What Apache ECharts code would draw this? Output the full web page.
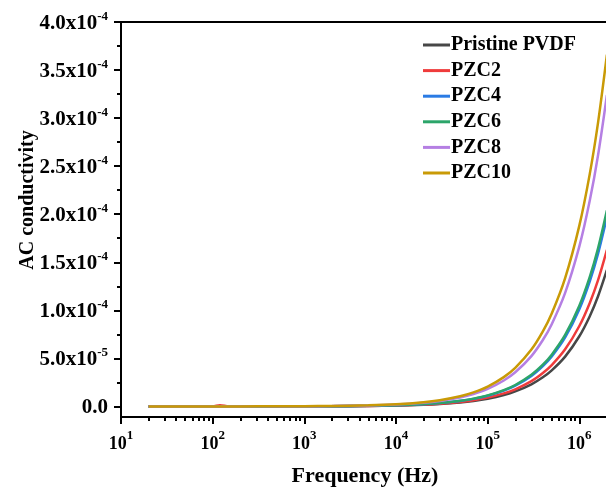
<!DOCTYPE html>
<html>
<head>
<meta charset="utf-8">
<script src="https://cdn.jsdelivr.net/npm/echarts@6/dist/echarts.min.js"></script>
<style>
html,body{margin:0;padding:0;background:#fff;}
#chart{width:606px;height:488px;}
</style>
</head>
<body>
<div id="chart"></div>
<script>
// Frequency sweep (Hz)
const frequencies = [20, 50, 100, 120, 150, 200, 500, 1e3, 2e3, 5e3, 1e4, 2e4, 3e4, 5e4, 7e4, 1e5, 1.5e5, 2e5, 3e5, 4e5, 5e5, 7e5, 1e6, 1.3e6, 1.6e6, 2e6];

// AC conductivity of each film (S/cm)
const pristinePVDF = [2.3e-9, 5.4e-9, 1.0e-8, 1.2e-8, 1.5e-8, 2.1e-8, 4.9e-8, 9.7e-8, 1.9e-7, 4.5e-7, 8.8e-7, 1.71e-6, 2.52e-6, 4.11e-6, 5.66e-6, 8.0e-6, 1.18e-5, 1.56e-5, 2.30e-5, 3.03e-5, 3.75e-5, 5.18e-5, 7.30e-5, 9.39e-5, 1.146e-4, 1.42e-4];
const pzc2 = [2.6e-9, 6.2e-9, 1.2e-8, 1.2e-6, 1.8e-8, 2.4e-8, 5.7e-8, 1.1e-7, 2.1e-7, 5.2e-7, 1.01e-6, 1.96e-6, 2.89e-6, 4.72e-6, 6.50e-6, 9.17e-6, 1.357e-5, 1.78e-5, 2.63e-5, 3.48e-5, 4.30e-5, 5.94e-5, 8.37e-5, 1.077e-4, 1.314e-4, 1.63e-4];
const pzc4 = [3.1e-9, 7.5e-9, 1.4e-8, 1.7e-8, 2.1e-8, 2.9e-8, 6.8e-8, 1.35e-7, 2.6e-7, 6.2e-7, 1.22e-6, 2.37e-6, 3.50e-6, 5.70e-6, 7.85e-6, 1.108e-5, 1.64e-5, 2.16e-5, 3.18e-5, 4.20e-5, 5.20e-5, 7.18e-5, 1.012e-4, 1.302e-4, 1.589e-4, 1.97e-4];
const pzc6 = [3.2e-9, 7.8e-9, 1.5e-8, 1.8e-8, 2.2e-8, 3.0e-8, 7.1e-8, 1.4e-7, 2.7e-7, 6.5e-7, 1.26e-6, 2.45e-6, 3.62e-6, 5.90e-6, 8.13e-6, 1.147e-5, 1.70e-5, 2.23e-5, 3.30e-5, 4.35e-5, 5.39e-5, 7.44e-5, 1.048e-4, 1.348e-4, 1.645e-4, 2.04e-4];
const pzc8 = [5.1e-9, 1.2e-8, 2.4e-8, 2.8e-8, 3.5e-8, 4.7e-8, 1.12e-7, 2.2e-7, 4.2e-7, 1.03e-6, 2.00e-6, 3.89e-6, 5.75e-6, 9.38e-6, 1.29e-5, 1.82e-5, 2.70e-5, 3.55e-5, 5.24e-5, 6.91e-5, 8.56e-5, 1.181e-4, 1.665e-4, 2.142e-4, 2.613e-4, 3.24e-4];
const pzc10 = [5.8e-9, 1.4e-8, 2.7e-8, 3.2e-8, 4.0e-8, 5.3e-8, 1.27e-7, 2.5e-7, 4.8e-7, 1.16e-6, 2.26e-6, 4.40e-6, 6.50e-6, 1.06e-5, 1.46e-5, 2.06e-5, 3.05e-5, 4.01e-5, 5.92e-5, 7.81e-5, 9.67e-5, 1.335e-4, 1.881e-4, 2.42e-4, 2.953e-4, 3.66e-4];

const seriesNames = ['Pristine PVDF', 'PZC2', 'PZC4', 'PZC6', 'PZC8', 'PZC10'];
const seriesValues = [pristinePVDF, pzc2, pzc4, pzc6, pzc8, pzc10];
const seriesColors = ['#474747', '#ef3b3b', '#2a7be4', '#2ca56a', '#b57fe3', '#c99a06'];

// Y axis tick positions
const yMajorTicks = [0, 5e-5, 1e-4, 1.5e-4, 2e-4, 2.5e-4, 3e-4, 3.5e-4, 4e-4];
const yMinorTicks = [2.5e-5, 7.5e-5, 1.25e-4, 1.75e-4, 2.25e-4, 2.75e-4, 3.25e-4, 3.75e-4];

// Logarithmic minor ticks (2..9 within each decade)
const xMinorTicks = [];
for (let d = 1; d <= 6; d++) {
  for (let m = 2; m <= 9; m++) xMinorTicks.push(m * Math.pow(10, d));
}

const FONT = "'Liberation Serif', 'Times New Roman', serif";

function sciLabel(v) {
  if (v === 0) return '{b|0.0}';
  const parts = v.toExponential(1).split('e');
  return '{b|' + parts[0] + 'x10}{s|' + parseInt(parts[1], 10) + '}';
}

const chart = echarts.init(document.getElementById('chart'), null, {renderer: 'canvas'});

chart.setOption({
  animation: false,
  backgroundColor: '#ffffff',
  grid: {
    left: 121, top: 22, right: -65, bottom: 71,
    outerBoundsMode: 'none', containLabel: false,
    show: true, borderColor: '#000', borderWidth: 2, backgroundColor: 'transparent'
  },
  legend: {
    orient: 'vertical',
    left: 418, top: 30,
    icon: 'rect',
    itemWidth: 27, itemHeight: 3, itemGap: 5.6,
    data: seriesNames,
    textStyle: {fontFamily: FONT, fontWeight: 'bold', fontSize: 20, color: '#000', lineHeight: 20, padding: [0, 0, 0, -4]}
  },
  xAxis: [{
    type: 'log', logBase: 10, min: 10, max: 1e7, position: 'bottom',
    axisLine: {onZero: false, lineStyle: {color: '#000', width: 2}},
    axisTick: {inside: false, length: 7, lineStyle: {color: '#000', width: 2}},
    splitLine: {show: false},
    axisLabel: {
      margin: 12, color: '#000',
      formatter: function (v) { return '{b|10}{s|' + Math.round(Math.log10(v)) + '}'; },
      rich: {
        b: {fontFamily: FONT, fontWeight: 'bold', fontSize: 18, color: '#000', lineHeight: 24, verticalAlign: 'bottom'},
        s: {fontFamily: FONT, fontWeight: 'bold', fontSize: 13, color: '#000', lineHeight: 24, verticalAlign: 'top', padding: [0, 0, 12, 0]}
      }
    }
  }, {
    type: 'log', logBase: 10, min: 10, max: 1e7, position: 'bottom',
    axisLine: {show: false, onZero: false},
    axisTick: {inside: false, length: 4, customValues: xMinorTicks, lineStyle: {color: '#000', width: 2}},
    axisLabel: {show: false},
    splitLine: {show: false}
  }],
  yAxis: [{
    type: 'value', min: -1.1e-5, max: 4e-4, position: 'left',
    axisLine: {show: true, onZero: false, lineStyle: {color: '#000', width: 2}},
    axisTick: {show: true, inside: false, length: 7, customValues: yMajorTicks, lineStyle: {color: '#000', width: 2}},
    splitLine: {show: false},
    axisLabel: {
      margin: 13, customValues: yMajorTicks, formatter: sciLabel,
      rich: {
        b: {fontFamily: FONT, fontWeight: 'bold', fontSize: 21, color: '#000', lineHeight: 24, verticalAlign: 'bottom'},
        s: {fontFamily: FONT, fontWeight: 'bold', fontSize: 13, color: '#000', lineHeight: 24, verticalAlign: 'top', padding: [0, 0, 12, 0]}
      }
    }
  }, {
    type: 'value', min: -1.1e-5, max: 4e-4, position: 'left',
    axisLine: {show: false, onZero: false},
    axisTick: {show: true, inside: false, length: 4, customValues: yMinorTicks, lineStyle: {color: '#000', width: 2}},
    axisLabel: {show: false},
    splitLine: {show: false}
  }],
  graphic: [{
    type: 'text', x: 365, y: 476,
    style: {text: 'Frequency (Hz)', font: 'bold 22px ' + FONT, fill: '#000', textAlign: 'center', textVerticalAlign: 'middle'}
  }, {
    type: 'text', x: 28, y: 200, rotation: Math.PI / 2,
    style: {text: 'AC conductivity', font: 'bold 20px ' + FONT, fill: '#000', textAlign: 'center', textVerticalAlign: 'middle'}
  }],
  series: seriesNames.map(function (name, i) {
    return {
      name: name,
      type: 'line',
      xAxisIndex: 0, yAxisIndex: 0,
      smooth: 0.3,
      symbol: 'none',
      color: seriesColors[i],
      lineStyle: {width: 2.5, color: seriesColors[i]},
      data: frequencies.map(function (f, k) { return [f, seriesValues[i][k]]; })
    };
  })
});
</script>
</body>
</html>
